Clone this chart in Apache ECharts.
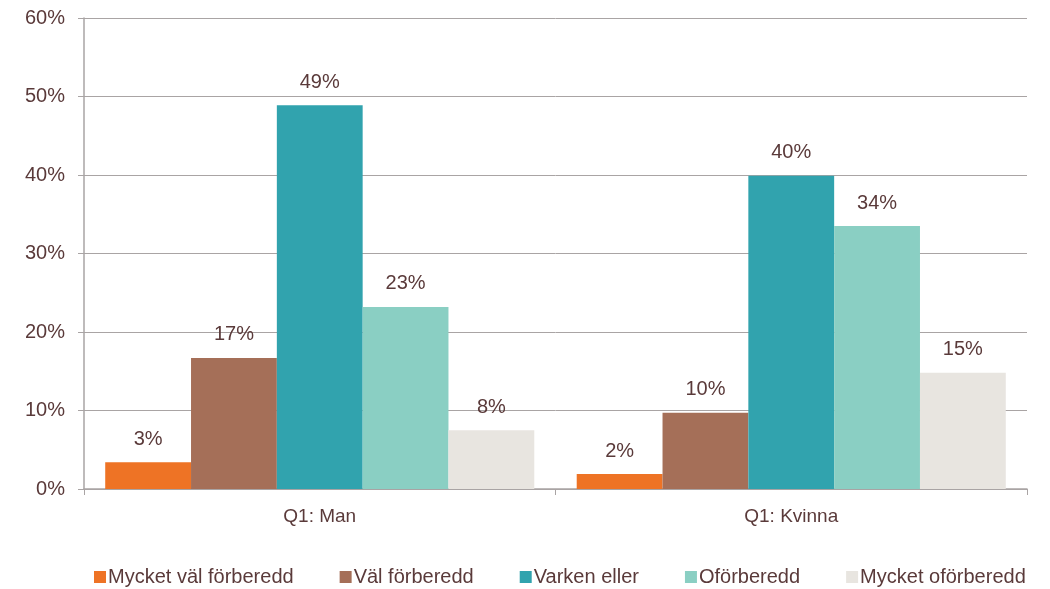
<!DOCTYPE html>
<html>
<head>
<meta charset="utf-8">
<script src="https://cdn.jsdelivr.net/npm/echarts@6/dist/echarts.min.js"></script>
<style>
  html, body { margin: 0; padding: 0; background: #fff; }
  #chart { width: 1050px; height: 589px; }
</style>
</head>
<body>
<div id="chart"></div>
<script>
// kategorier och serier
const categories = ['Q1: Man', 'Q1: Kvinna'];
const seriesNames = ['Mycket väl förberedd', 'Väl förberedd', 'Varken eller', 'Oförberedd', 'Mycket oförberedd'];
const seriesColors = ['#EE7325', '#A56F58', '#31A3AE', '#8ACFC3', '#E8E5E0'];
const mycketVal = [3.4, 1.9];
const val = [16.7, 9.7];
const varkenEller = [48.9, 39.9];
const oforberedd = [23.2, 33.5];
const mycketOforberedd = [7.5, 14.8];
const yTicks = [0, 10, 20, 30, 40, 50, 60];

const seriesData = [mycketVal, val, varkenEller, oforberedd, mycketOforberedd];
const textColor = '#5A3A3A';
const font = 'Liberation Sans, Arial, sans-serif';

let chart = echarts.init(document.getElementById('chart'));
chart.setOption({
  animation: false,
  textStyle: { fontFamily: font },
  grid: { left: 84, right: 23, top: 18, bottom: 100, containLabel: false },
  legend: {
    top: 562,
    left: 89,
    itemWidth: 12,
    itemHeight: 12,
    itemGap: 46,
    icon: 'rect',
    textStyle: { color: textColor, fontSize: 20, fontFamily: font, padding: [0, 0, 0, -3] },
    data: seriesNames
  },
  xAxis: {
    type: 'category',
    data: categories,
    axisLine: { lineStyle: { color: '#A9A4A4', width: 1.5 } },
    axisTick: { show: true, alignWithLabel: false, length: 6, lineStyle: { color: '#A9A4A4' } },
    axisLabel: { color: textColor, fontSize: 19, margin: 18 }
  },
  yAxis: {
    type: 'value',
    min: yTicks[0],
    max: yTicks[yTicks.length - 1],
    interval: 10,
    axisLine: { show: true, lineStyle: { color: '#A9A4A4', width: 1.5 } },
    axisTick: { show: true, length: 6, lineStyle: { color: '#A9A4A4' } },
    splitLine: { show: true, lineStyle: { color: '#A9A4A4', width: 1 } },
    axisLabel: { color: textColor, fontSize: 20, margin: 19, formatter: '{value}%' }
  },
  series: seriesNames.map((name, i) => ({
    name: name,
    type: 'bar',
    data: seriesData[i],
    barGap: '0%',
    barCategoryGap: '9%',
    itemStyle: { color: seriesColors[i] },
    label: {
      show: true,
      position: 'top',
      distance: 13,
      color: textColor,
      fontSize: 20,
      formatter: p => Math.round(p.value) + '%'
    }
  }))
});
</script>
</body>
</html>
